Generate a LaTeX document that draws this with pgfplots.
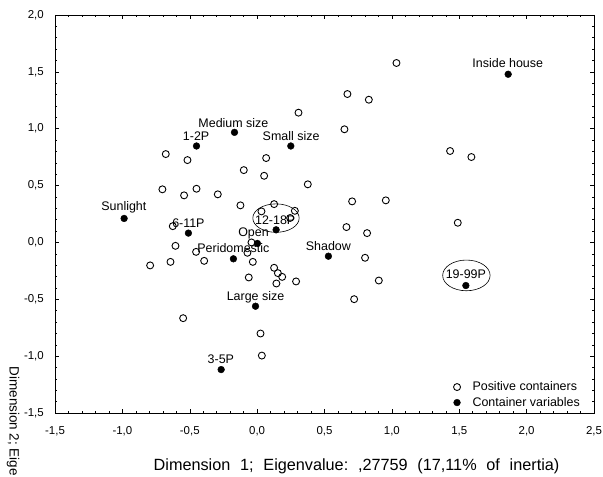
\documentclass[border=0pt]{standalone}
\usepackage{fontspec}
\setmainfont{Liberation Sans}
\usepackage{pgfplots}
\pgfplotsset{compat=1.18}
\newcommand{\ws}{\hspace{0.6em}}
\begin{document}
\begin{tikzpicture}
\begin{axis}[
  name=ax,
  width=539bp, height=398bp, scale only axis,
  xmin=-1.5, xmax=2.5, ymin=-1.5, ymax=2,
  xtick={-1.5,-1,...,2.5}, ytick={-1.5,-1,...,2},
  minor tick num=4,
  tick align=inside, xtick pos=both, ytick pos=both,
  major tick length=4bp, minor tick length=2bp,
  tick style={black, line width=0.5pt},
  axis line style={line width=0.9pt},
  ticklabel style={font=\fontsize{11.5}{14}\selectfont},
  xticklabel style={anchor=base, yshift=-21bp},
  yticklabel style={anchor=east, inner xsep=0pt, xshift=-11bp},
  /pgf/number format/fixed,
  /pgf/number format/fixed zerofill,
  /pgf/number format/precision=1,
  /pgf/number format/use comma,
  /pgf/number format/assume math mode=true,
  clip=false,
  legend style={at={(rel axis cs:1,0)}, anchor=south east, xshift=-9bp, yshift=1bp,
    draw=none, fill=none, font=\fontsize{12.5}{14}\selectfont, row sep=1pt, column sep=10bp},
  legend cell align=left,
]

% positive containers
\addplot[only marks, mark=o, mark size=3.5pt, mark options={line width=0.9pt, black}]
table {
x y
-0.678 0.777
-0.517 0.724
-0.099 0.636
0.067 0.742
0.052 0.586
-0.703 0.467
-0.542 0.414
-0.450 0.472
-0.292 0.423
-0.124 0.326
0.126 0.337
0.032 0.273
0.280 0.278
0.245 0.215
0.307 1.141
1.034 1.578
0.670 1.305
0.829 1.255
0.648 0.995
1.432 0.804
1.590 0.751
0.376 0.511
0.705 0.361
0.955 0.370
0.663 0.135
0.816 0.082
1.489 0.173
0.801 -0.135
0.903 -0.335
0.720 -0.499
-0.626 0.143
-0.606 -0.030
-0.453 -0.083
-0.794 -0.202
-0.643 -0.171
-0.393 -0.162
-0.072 -0.091
-0.042 0.000
-0.032 -0.171
-0.062 -0.308
0.126 -0.223
0.154 -0.270
0.186 -0.303
0.143 -0.361
0.289 -0.343
-0.549 -0.666
0.025 -0.801
0.035 -0.995
};
\addlegendentry{Positive containers}

% container variables
\addplot[only marks, mark=*, mark size=3.4pt, black]
table {
x y
1.863 1.479
-0.168 0.968
-0.450 0.848
0.250 0.848
-0.987 0.211
-0.510 0.082
0.141 0.111
0.002 -0.009
-0.176 -0.144
0.529 -0.121
1.549 -0.379
-0.012 -0.561
-0.267 -1.118
};
\addlegendentry{Container variables}

\begin{scope}[every node/.style={font=\fontsize{12.5}{14}\selectfont, inner sep=0pt}]
\node at (axis cs:1.860,1.576) {Inside house};
\node at (axis cs:-0.176,1.053) {Medium size};
\node at (axis cs:-0.453,0.936) {1-2P};
\node at (axis cs:0.252,0.936) {Small size};
\node at (axis cs:-0.989,0.308) {Sunlight};
\node at (axis cs:-0.510,0.173) {6-11P};
\node at (axis cs:0.134,0.196) {12-18P};
\node at (axis cs:-0.027,0.079) {Open};
\node at (axis cs:-0.176,-0.053) {Peridomestic};
\node at (axis cs:0.529,-0.032) {Shadow};
\node at (axis cs:1.549,-0.279) {19-99P};
\node at (axis cs:-0.012,-0.479) {Large size};
\node at (axis cs:-0.269,-1.030) {3-5P};
\end{scope}

\draw[line width=0.6pt] (axis cs:0.140,0.214) ellipse [x radius=0.172, y radius=0.125];
\draw[line width=0.6pt] (axis cs:1.553,-0.290) ellipse [x radius=0.176, y radius=0.135];

\node[font=\fontsize{16.3}{18}\selectfont, anchor=base] at (axis cs:0.738,-2.004)
  {Dimension\ws 1;\ws Eigenvalue:\ws ,27759\ws (17,11\%\ws of\ws inertia)};
\node[font=\fontsize{13.5}{15}\selectfont, rotate=-90, anchor=west] at (axis cs:-1.811,-1.062)
  {Dimension 2; Eige};
\end{axis}
\pgfresetboundingbox
\path ([shift={(-55bp,-63bp)}]ax.south west) rectangle ([shift={(9bp,15bp)}]ax.north east);
\end{tikzpicture}
\end{document}
